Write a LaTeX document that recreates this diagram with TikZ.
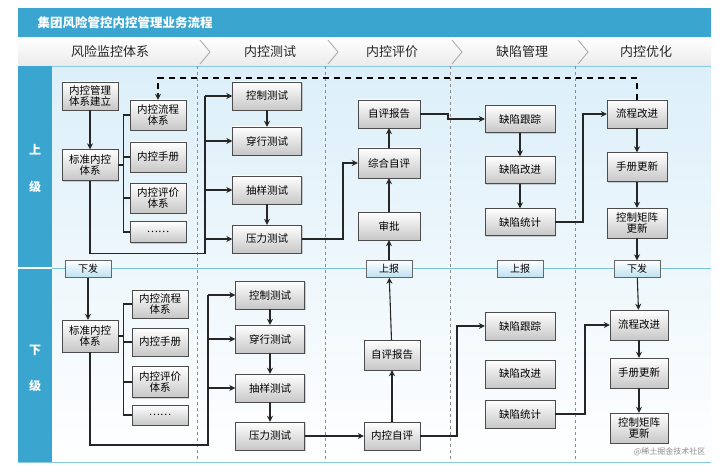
\documentclass[tikz,border=0pt]{standalone}
\usepackage{fontspec}
\setmainfont{Noto Sans CJK SC}
\usetikzlibrary{shadows,arrows.meta,calc}
\definecolor{tblue}{HTML}{3AA6D0}
\definecolor{lblue}{HTML}{DCEFF9}
\begin{document}
\begin{tikzpicture}[x=1pt,y=-1pt,
 box/.style={draw=black!70,top color=white,bottom color=black!22,minimum width=56pt,minimum height=28pt,inner sep=1pt,align=center,text=black,font=\fontsize{10.5}{11}\selectfont,drop shadow={opacity=0.35,shadow xshift=1.2pt,shadow yshift=-1.2pt}},
 lbl/.style={draw=black!60,top color=white,bottom color=lblue!80!tblue,minimum width=46pt,minimum height=17pt,inner sep=0pt,font=\fontsize{10}{10}\selectfont},
 ln/.style={draw=black!85,line width=1.1pt},
 ar/.style={ln,-{Stealth[length=6pt,width=6pt]}},
 hd/.style={font=\fontsize{13}{13}\selectfont,text=black!85},
 sep/.style={draw=black!45,dashed,line width=0.5pt}]
\useasboundingbox (0,0) rectangle (722,473);
\fill[white] (0,0) rectangle (722,473);
% frame
\fill[top color=lblue,bottom color=white] (52,66) rectangle (711,462);
\fill[tblue] (18,8) rectangle (711,38);
\node[anchor=west,text=white,font=\fontsize{12.5}{13}\bfseries\selectfont] (title) at (34,23) {集团风险管控内控管理业务流程};
\fill[top color=white,bottom color=black!8] (18,38) rectangle (711,66);
\foreach \x in {200,328,452,578}{\draw[black!35,line width=0.8pt] (\x,40) -- (\x+10,52) -- (\x,64);}
\node[hd] (h1) at (110,52) {风险监控体系};
\node[hd] (h2) at (270,52) {内控测试};
\node[hd] (h3) at (392,52) {内控评价};
\node[hd] (h4) at (522,52) {缺陷管理};
\node[hd] (h5) at (646,52) {内控优化};
\fill[tblue] (18,66) rectangle (52,462);
\draw[white,line width=1.2pt] (18,268) -- (711,268);
\draw[tblue!70,line width=0.8pt] (52,268) -- (711,268);
\draw[tblue!60,line width=0.8pt] (52,66) -- (711,66) (18,462)--(711,462);
\node[text=white,font=\fontsize{12}{13}\bfseries\selectfont] (u1) at (35,150) {上};
\node[text=white,font=\fontsize{12}{13}\bfseries\selectfont] (u2) at (35,187) {级};
\node[text=white,font=\fontsize{12}{13}\bfseries\selectfont] (d1l) at (35,350) {下};
\node[text=white,font=\fontsize{12}{13}\bfseries\selectfont] (d2l) at (35,386) {级};
\foreach \x in {197,325,450,575}{\draw[sep] (\x,66) -- (\x,462);}
% upper nodes
\node[box] (g1) at (90,96) {内控管理\\体系建立};
\node[box,minimum height=31pt] (g2) at (90,165) {标准内控\\体系};
\node[box,minimum height=30pt] (s1) at (158,115) {内控流程\\体系};
\node[box,minimum height=30pt] (s2) at (158,157) {内控手册};
\node[box,minimum height=30pt] (s3) at (158,198) {内控评价\\体系};
\node[box,minimum height=21pt] (s4) at (158,232) {……};
\node[box,minimum width=69pt] (t1) at (267,96) {控制测试};
\node[box,minimum width=69pt] (t2) at (267,141) {穿行测试};
\node[box,minimum width=69pt] (t3) at (267,190) {抽样测试};
\node[box,minimum width=69pt] (t4) at (267,239) {压力测试};
\node[box,minimum width=62pt] (e1) at (389,114) {自评报告};
\node[box,minimum width=62pt,minimum height=30pt] (e2) at (389,163) {综合自评};
\node[box,minimum width=62pt] (e3) at (389,226) {审批};
\node[box,minimum width=70pt,minimum height=27pt] (k1) at (520,119) {缺陷跟踪};
\node[box,minimum width=70pt,minimum height=27pt] (k2) at (520,170) {缺陷改进};
\node[box,minimum width=70pt,minimum height=27pt] (k3) at (520,222) {缺陷统计};
\node[box,minimum width=60pt] (o1) at (637,114) {流程改进};
\node[box,minimum width=60pt,minimum height=29pt] (o2) at (637,167) {手册更新};
\node[box,minimum width=60pt,minimum height=30pt] (o3) at (637,223) {控制矩阵\\更新};
% labels
\node[lbl] (L1) at (88,269) {下发};
\node[lbl] (L2) at (389,269) {上报};
\node[lbl] (L3) at (520,269) {上报};
\node[lbl] (L4) at (637,269) {下发};
% lower nodes
\node[box,minimum height=32pt] (G2) at (90,336) {标准内控\\体系};
\node[box] (S1) at (160,304) {内控流程\\体系};
\node[box] (S2) at (160,342) {内控手册};
\node[box,minimum height=31pt] (S3) at (160,382) {内控评价\\体系};
\node[box,minimum height=20pt] (S4) at (160,415) {……};
\node[box,minimum width=69pt] (T1) at (270,295) {控制测试};
\node[box,minimum width=69pt] (T2) at (270,339) {穿行测试};
\node[box,minimum width=69pt] (T3) at (270,388) {抽样测试};
\node[box,minimum width=69pt] (T4) at (270,436) {压力测试};
\node[box,minimum height=30pt] (E1) at (392,355) {自评报告};
\node[box] (E2) at (392,436) {内控自评};
\node[box,minimum width=70pt] (D1) at (520,326) {缺陷跟踪};
\node[box,minimum width=70pt] (D2) at (520,374) {缺陷改进};
\node[box,minimum width=70pt] (D3) at (520,414) {缺陷统计};
\node[box,minimum width=58pt,minimum height=30pt] (O1) at (639,325) {流程改进};
\node[box,minimum width=58pt,minimum height=30pt] (O2) at (639,373) {手册更新};
\node[box,minimum width=58pt,minimum height=30pt] (O3) at (639,428) {控制矩阵\\更新};
% coordinates
\coordinate (bu) at (205,0);
\coordinate (bl) at (208,0);
\coordinate (c1) at (343,0);
\coordinate (c2) at (448,0);
\coordinate (c3) at (583,0);
\coordinate (c4) at (457,0);
\coordinate (c5) at (585,0);
% upper connectors
\draw[ar] (g1) -- (g2);
\draw[ln] (g2.east) -- ++(6,0);
\draw[ln] (s1.west) -- ++(-6,0) |- (s4.west);
\draw[ln] (s2.west) -- ++(-6,0) (s3.west) -- ++(-6,0);
\draw[ln] (g2.south) |- (bu |- t4.south) -- (bu |- t1);
\foreach \n in {t1,t2,t3,t4}{\draw[ar] (bu |- \n.west) -- (\n.west);}
\draw[ar] (t1) -- (t2);
\draw[ar] (t3) -- (t4);
\draw[dashed,line width=1.3pt,dash pattern=on 6pt off 5pt] (o1.north) |- (s1.north |- 0,78) -- ($(s1.north)+(0,-6)$);
\draw[ar] ($(s1.north)+(0,-7)$) -- (s1.north);
\draw[ar] (t4.east) -- (c1 |- t4.east) |- (e2.west);
\draw[ar] (e3) -- (e2);
\draw[ar] (e2) -- (e1);
\draw[ar] (L2) -- (e3);
\draw[ar] (e1.east) -- (c2 |- e1.east) |- (k1.west);
\draw[ar] (k1) -- (k2);
\draw[ar] (k2) -- (k3);
\draw[ar] (k3.east) -- (c3 |- k3.east) |- (o1.west);
\draw[ar] (o1) -- (o2);
\draw[ar] (o2) -- (o3);
\draw[ar] (o3) -- (L4);
% lower connectors
\draw[ar] (L1) -- (L1 |- G2.north);
\draw[ln] (G2.east) -- ++(6,0);
\draw[ln] (S1.west) -- ++(-8,0) |- (S4.west);
\draw[ln] (S2.west) -- ++(-8,0) (S3.west) -- ++(-8,0);
\draw[ln] (G2.south) |- (bl |- 0,445) -- (bl |- T1);
\foreach \n in {T1,T2,T3}{\draw[ar] (bl |- \n.west) -- (\n.west);}
\draw[ar] (T1) -- (T2);
\draw[ar] (T2) -- (T3);
\draw[ar] (T3) -- (T4);
\draw[ar] (T4) -- (E2);
\draw[ar] (E2) -- (E1);
\draw[ar] (E1) -- (L2);
\draw[ar] (E2.east) -- (c4 |- E2.east) |- (D1.west);
\draw[ar] (D3.east) -- (c5 |- D3.east) |- (O1.west);
\draw[ar] (L4) -- (O1);
\draw[ar] (O1) -- (O2);
\draw[ar] (O2) -- (O3);
\node[text=black!45,font=\fontsize{8}{9}\selectfont,anchor=east] (wm2) at (709,452) {@稀土掘金技术社区};
\end{tikzpicture}
\end{document}
